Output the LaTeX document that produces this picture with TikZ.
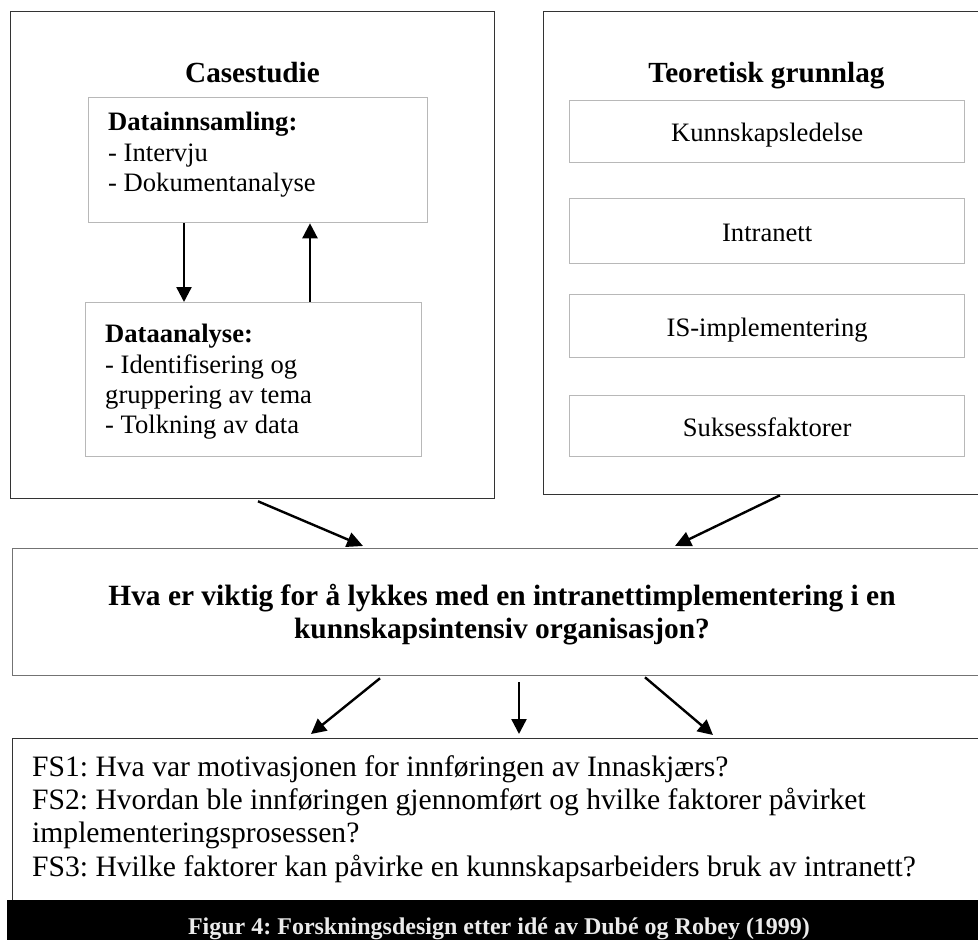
\documentclass[tikz,border=0pt]{standalone}
\usepackage{fontspec}
\setmainfont{Liberation Serif}
\usetikzlibrary{arrows.meta,calc}
\frenchspacing
\begin{document}
\begin{tikzpicture}[x=1pt,y=-1pt,
  frame/.style={draw=black!80, line width=1.3pt, inner sep=0pt, anchor=north west},
  subbox/.style={draw=black!28, line width=1.3pt, inner sep=0pt, anchor=north west},
  topic/.style={subbox, minimum width=395pt, text height=20pt, text depth=0pt,
    font=\fontsize{26.6}{30.4}\selectfont},
  heading/.style={font=\bfseries\fontsize{29.2}{33.4}\selectfont, anchor=base, inner sep=0pt},
  listtext/.style={align=left, anchor=north west, inner sep=0pt,
    font=\fontsize{26.6}{30.4}\selectfont},
  flow/.style={line width=2.4pt, -{Triangle[length=15pt,width=15pt]}},
  slant/.style={line width=2.4pt, -{Triangle[length=16pt,width=15pt]}}
]
\useasboundingbox (0,0) rectangle (978,940);

% upper containers
\node[frame, minimum width=484pt, minimum height=487pt] (casebox) at (10,11) {};
\node[frame, minimum width=452pt, minimum height=483pt] (teoribox) at (543,11) {};
\node[heading] (casetitle) at (252.5,82) {Casestudie};
\node[heading] (teorititle) at (766.5,82) {Teoretisk grunnlag};

% case study steps
\node[subbox, minimum width=339pt, minimum height=125pt] (collect) at (88,97) {};
\node[listtext] (collecttxt) at (108,112)
  {\textbf{Datainnsamling:}\\- Intervju\\- Dokumentanalyse};
\node[subbox, minimum width=336pt, minimum height=154pt] (analysis) at (85,302) {};
\node[listtext] (analysistxt) at (105,324)
  {\textbf{Dataanalyse:}\\- Identifisering og\\gruppering av tema\\- Tolkning av data};

% theory topics
\node[topic, minimum height=62pt] (t1) at (569,100) {Kunnskapsledelse};
\node[topic, minimum height=65pt] (t2) at (569,198) {Intranett};
\node[topic, minimum height=63pt] (t3) at (569,294) {IS-implementering};
\node[topic, minimum height=61pt] (t4) at (569,395) {Suksessfaktorer};

% research question
\node[draw=black!55, line width=1.3pt, inner sep=0pt, anchor=north west,
  minimum width=981pt, minimum height=127pt] (question) at (12,548) {};
\node[align=center, anchor=north, inner sep=0pt,
  font=\bfseries\fontsize{29.4}{33.4}\selectfont] (questiontxt) at (502,584)
  {Hva er viktig for å lykkes med en intranettimplementering i en\\kunnskapsintensiv organisasjon?};

% sub-questions
\node[frame, minimum width=990pt, minimum height=175pt] (fsbox) at (12,738) {};
\node[align=left, anchor=north west, inner sep=0pt,
  font=\fontsize{29.6}{33.4}\selectfont] (fstxt) at (32,755)
  {FS1: Hva var motivasjonen for innføringen av Innaskjærs?\\
   FS2: Hvordan ble innføringen gjennomført og hvilke faktorer påvirket\\
   implementeringsprosessen?\\
   FS3: Hvilke faktorer kan påvirke en kunnskapsarbeiders bruk av intranett?};

% caption bar
\node[fill=black, inner sep=0pt, anchor=north west,
  minimum width=995pt, minimum height=50pt] (captionbar) at (7,900) {};
\node[anchor=base, inner sep=0pt, text=black!8,
  font=\bfseries\fontsize{24}{28}\selectfont] (caption) at (499,934)
  {Figur 4: Forskningsdesign etter idé av Dubé og Robey (1999)};

% arrows inside the case study
\coordinate (down) at ([xshift=96pt]collect.south west);
\draw[flow] (down) -- (down |- analysis.north);
\coordinate (up) at ([xshift=225pt]analysis.north west);
\draw[flow] (up) -- (up |- collect.south);

% arrows into the research question
\draw[slant] ([xshift=248pt,yshift=-2pt]casebox.south west)
  -- ([xshift=351pt,yshift=2pt]question.north west);
\draw[slant] ([xshift=237pt]teoribox.south west)
  -- ([xshift=663pt,yshift=2pt]question.north west);

% arrows to the sub-questions
\draw[flow] ([xshift=368pt,yshift=-2pt]question.south west)
  -- ([xshift=299pt,yshift=4pt]fsbox.north west);
\draw[flow] ([xshift=507pt,yshift=-6pt]question.south west)
  -- ([xshift=507pt,yshift=4pt]fsbox.north west);
\draw[flow] ([xshift=633pt,yshift=-1pt]question.south west)
  -- ([xshift=701pt,yshift=3pt]fsbox.north west);
\end{tikzpicture}
\end{document}
